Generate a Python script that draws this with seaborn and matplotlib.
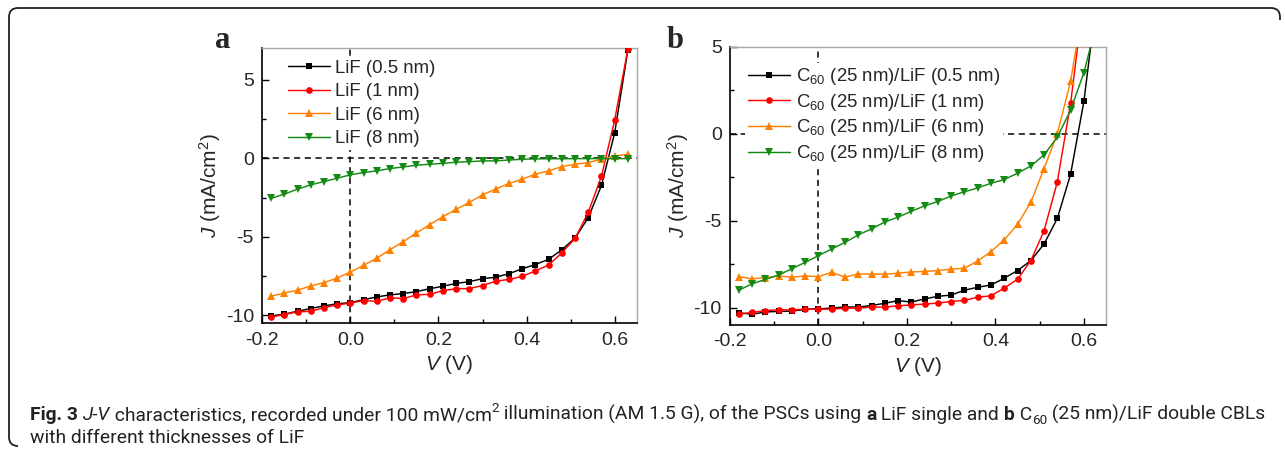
import numpy as np
import pandas as pd
import matplotlib
matplotlib.use("Agg")
import matplotlib.pyplot as plt
import seaborn as sns
from matplotlib import font_manager
from matplotlib.patches import PathPatch
from matplotlib.path import Path
from matplotlib.transforms import IdentityTransform
from matplotlib.ticker import MultipleLocator, FormatStrFormatter

# ---------------- data ----------------
V = [-0.18, -0.15, -0.12, -0.09, -0.06, -0.03, 0.00, 0.03, 0.06, 0.09,
     0.12, 0.15, 0.18, 0.21, 0.24, 0.27, 0.30, 0.33, 0.36, 0.39,
     0.42, 0.45, 0.48, 0.51, 0.54, 0.57, 0.60, 0.63]

# panel a: LiF single CBL
a_lif05 = [-10.03, -9.92, -9.73, -9.56, -9.39, -9.26, -9.18, -9.00, -8.82, -8.69,
           -8.61, -8.48, -8.30, -8.14, -7.96, -7.85, -7.66, -7.57, -7.34, -7.03,
           -6.76, -6.43, -5.82, -5.08, -3.78, -1.73, 1.62, 6.90]
a_lif1 = [-10.10, -9.94, -9.77, -9.74, -9.50, -9.33, -9.22, -9.05, -9.11, -8.87,
          -8.93, -8.69, -8.66, -8.42, -8.30, -8.29, -8.10, -7.82, -7.71, -7.51,
          -7.17, -6.79, -6.02, -5.10, -3.44, -1.14, 2.43, 6.96]
a_lif6 = [-8.78, -8.57, -8.40, -8.12, -7.91, -7.62, -7.24, -6.81, -6.35, -5.82,
          -5.30, -4.75, -4.22, -3.71, -3.25, -2.81, -2.32, -1.96, -1.60, -1.33,
          -1.01, -0.80, -0.53, -0.38, -0.27, -0.06, 0.15, 0.25]
a_lif8 = [-2.55, -2.28, -1.96, -1.69, -1.48, -1.27, -1.05, -0.91, -0.80, -0.65,
          -0.55, -0.44, -0.38, -0.32, -0.25, -0.21, -0.17, -0.16, -0.11, -0.06,
          -0.04, -0.03, -0.03, -0.02, -0.02, -0.02, -0.02, -0.02]

# panel b: C60 (25 nm)/LiF double CBL
b_lif05 = [-10.30, -10.38, -10.25, -10.22, -10.20, -10.10, -10.07, -10.03, -9.96, -9.97,
           -9.88, -9.75, -9.60, -9.68, -9.50, -9.35, -9.28, -9.00, -8.83, -8.70,
           -8.31, -7.87, -7.30, -6.34, -4.87, -2.33, 1.85, 8.00]
b_lif1 = [-10.37, -10.28, -10.17, -10.13, -10.13, -10.09, -10.09, -10.09, -10.03, -10.03,
          -9.97, -9.97, -9.90, -9.84, -9.80, -9.74, -9.65, -9.59, -9.40, -9.32,
          -8.88, -8.37, -7.30, -5.58, -2.77, 1.75, 7.90]
b_lif6 = [-8.22, -8.35, -8.27, -8.18, -8.25, -8.18, -8.22, -7.97, -8.25, -8.06,
          -8.08, -8.08, -8.02, -7.95, -7.92, -7.87, -7.79, -7.74, -7.32, -6.78,
          -6.11, -5.21, -3.95, -2.01, 0.00, 3.02, 7.60]
b_lif8 = [-9.00, -8.63, -8.38, -8.13, -7.76, -7.40, -7.01, -6.63, -6.25, -5.82,
          -5.47, -5.08, -4.80, -4.46, -4.15, -3.90, -3.58, -3.34, -3.12, -2.85,
          -2.64, -2.27, -1.86, -1.22, -0.19, 1.35, 3.51, 6.50]

thick = ["0.5 nm", "1 nm", "6 nm", "8 nm"]
labels_a = [f"LiF ({t})" for t in thick]
labels_b = [f"C$_{{60}}$ (25 nm)/LiF ({t})" for t in thick]

colors = ["#000000", "#ff0000", "#ff8000", "#148a14"]
markers = ["s", "o", "^", "v"]
msizes = [4.0, 4.8, 5.8, 5.8]

# ---------------- style ----------------
sns.set_style("ticks")
plt.rcParams['font.family'] = ['Liberation Sans', 'DejaVu Sans']
plt.rcParams['mathtext.fontset'] = 'custom'
plt.rcParams['mathtext.rm'] = 'Liberation Sans'
plt.rcParams['mathtext.it'] = 'Liberation Sans:italic'
plt.rcParams['mathtext.bf'] = 'Liberation Sans:bold'
plt.rcParams['axes.unicode_minus'] = False

W, H = 1285, 451
fig = plt.figure(figsize=(W / 100, H / 100), dpi=100)
fig.patch.set_facecolor("white")


def px_axes(l, t, r, b):
    return [l / W, 1 - b / H, (r - l) / W, (b - t) / H]


axA = fig.add_axes(px_axes(262.3, 48.3, 636.7, 323.3))
axB = fig.add_axes(px_axes(730.0, 46.7, 1106.0, 325.0))


def draw_panel(ax, series, labels, ylim, leg_anchor, lspace):
    for vals, lab, c, m, ms in zip(series, labels, colors, markers, msizes):
        sns.lineplot(x=V[:len(vals)], y=vals, ax=ax, color=c, marker=m,
                     markersize=ms, markeredgewidth=0, linewidth=1.05,
                     label=lab, sort=False, errorbar=None, zorder=3)
    ax.axhline(0, color="black", lw=1.1, ls=(0, (4, 3)), zorder=1)
    ax.axvline(0, color="black", lw=1.1, ls=(0, (4, 3)), zorder=1)
    ax.set_xlim(-0.2, 0.65)
    ax.set_ylim(*ylim)
    ax.xaxis.set_major_locator(MultipleLocator(0.2))
    ax.xaxis.set_minor_locator(MultipleLocator(0.1))
    ax.yaxis.set_major_locator(MultipleLocator(5))
    ax.yaxis.set_minor_locator(MultipleLocator(2.5))
    ax.xaxis.set_major_formatter(FormatStrFormatter('%.1f'))
    ax.yaxis.set_major_formatter(FormatStrFormatter('%d'))
    ax.tick_params(which="both", direction="in", top=False, right=False,
                   labelsize=14, pad=6, width=1.0, color="black")
    ax.tick_params(which="major", length=5)
    ax.tick_params(which="minor", length=3)
    for s in ["left", "bottom"]:
        ax.spines[s].set_color("black")
        ax.spines[s].set_linewidth(1.2)
    for s in ["top", "right"]:
        ax.spines[s].set_color("#a8a8a8")
        ax.spines[s].set_linewidth(1.0)
    ax.set_xlabel(r"$\mathit{V}$ (V)", fontsize=15, labelpad=3)
    ax.set_ylabel(r"$\mathit{J}$ (mA/cm$^{2}$)", fontsize=15, labelpad=2)
    leg = ax.legend(loc="upper left", bbox_to_anchor=leg_anchor, borderaxespad=0,
                    frameon=True, fancybox=False, edgecolor="none", facecolor="white",
                    framealpha=1, fontsize=13.4, handlelength=2.25, handletextpad=0.3,
                    labelspacing=lspace, borderpad=0.15, numpoints=1)
    leg.set_zorder(5)


draw_panel(axA, [a_lif05, a_lif1, a_lif6, a_lif8], labels_a, (-10.5, 7), (0.061, 0.969), 0.35)
draw_panel(axB, [b_lif05, b_lif1, b_lif6, b_lif8], labels_b, (-11, 5), (0.041, 0.94), 0.25)

# panel letters
fig.text(215 / W, 1 - 48 / H, "a", fontfamily="Liberation Serif", fontweight="bold",
         fontsize=22, ha="left", va="baseline")
fig.text(667 / W, 1 - 48 / H, "b", fontfamily="Liberation Serif", fontweight="bold",
         fontsize=22, ha="left", va="baseline")

# ---------------- caption ----------------
def pick_font(cands):
    for f in cands:
        try:
            font_manager.findfont(font_manager.FontProperties(family=f), fallback_to_default=False)
            return f
        except Exception:
            continue
    return "DejaVu Sans"


cap_font = pick_font(["Liberation Sans Narrow", "Roboto", "Open Sans"])
renderer = fig.canvas.get_renderer()


def piece_kw(kind, size):
    kw = dict(fontfamily=cap_font, fontsize=size, color="#222222")
    dy = 0.0
    if kind == "b":
        kw["fontweight"] = "bold"
    elif kind == "i":
        kw["fontstyle"] = "italic"
    elif kind == "sup":
        kw["fontsize"] = size * 0.7
        dy = size * 0.42 * 100 / 72
    elif kind == "sub":
        kw["fontsize"] = size * 0.7
        dy = -size * 0.2 * 100 / 72
    return kw, dy


def measure(txt, kw):
    t1 = fig.text(0, 0, "x" + txt + "x", **kw)
    t2 = fig.text(0, 0, "xx", **kw)
    w = t1.get_window_extent(renderer).width - t2.get_window_extent(renderer).width
    t1.remove()
    t2.remove()
    return w


def line_width(pieces, size):
    return sum(measure(t, piece_kw(k, size)[0]) for t, k in pieces)


def draw_rich(x_px, base_px, pieces, size):
    x = x_px
    for txt, kind in pieces:
        kw, dy = piece_kw(kind, size)
        fig.text(x / W, 1 - (base_px - dy) / H, txt, ha="left", va="baseline", **kw)
        x += measure(txt, kw)


line1 = [("Fig. 3", "b"), (" ", "n"), ("J-V", "i"),
         (" characteristics, recorded under 100 mW/cm", "n"), ("2", "sup"),
         (" illumination (AM 1.5 G), of the PSCs using ", "n"), ("a", "b"),
         (" LiF single and ", "n"), ("b", "b"), (" C", "n"), ("60", "sub"),
         (" (25 nm)/LiF double CBLs", "n")]
line2 = [("with different thicknesses of LiF", "n")]

w10 = line_width(line1, 10)
cap_size = 10 * (1266 - 30) / w10
draw_rich(30, 420, line1, cap_size)
draw_rich(30, 443, line2, cap_size)

# partial rounded frame (bottom-left corner, left side, top side, top-right corner)
x0, x1, yt, yb, r = 9, 1280, 8, 446, 9
verts = [(x0 + r, H - yb), (x0, H - yb), (x0, H - yb + r),
         (x0, H - yt - r),
         (x0, H - yt), (x0 + r, H - yt),
         (x1 - r, H - yt),
         (x1, H - yt), (x1, H - yt - r),
         (x1, H - yt - r - 3)]
codes = [Path.MOVETO, Path.CURVE3, Path.CURVE3,
         Path.LINETO,
         Path.CURVE3, Path.CURVE3,
         Path.LINETO,
         Path.CURVE3, Path.CURVE3,
         Path.LINETO]
frame = PathPatch(Path(verts, codes), transform=IdentityTransform(), fill=False,
                  edgecolor="#222222", linewidth=1.3)
fig.add_artist(frame)

fig.savefig("out.png", dpi=100)
